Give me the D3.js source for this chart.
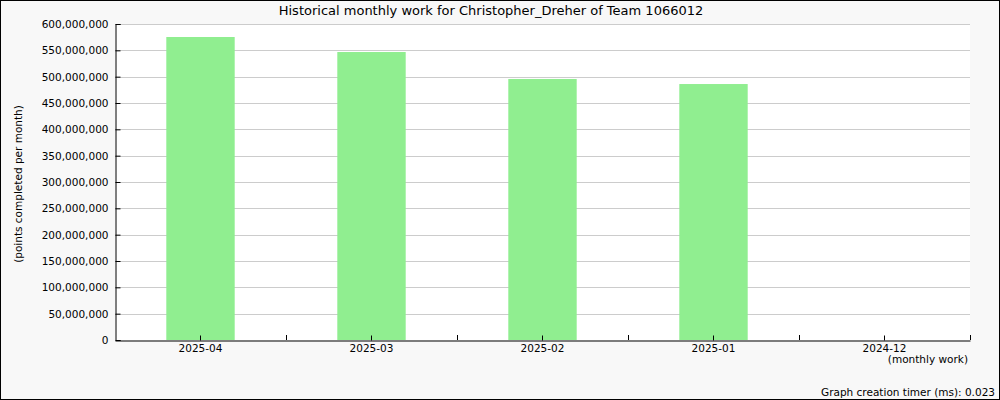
<!DOCTYPE html>
<html><head><meta charset="utf-8">
<script src="https://cdn.jsdelivr.net/npm/d3@7"></script>
<style>
html,body{margin:0;padding:0;background:#fff;}
svg text{font-family:"DejaVu Sans",sans-serif;fill:#000;}
</style></head>
<body>
<svg id="c" width="1000" height="400"></svg>
<script>
const categories = ["2025-04","2025-03","2025-02","2025-01","2024-12"];
const values = [575300000, 546800000, 495600000, 486000000, 0];
const yTicks = [0,50e6,100e6,150e6,200e6,250e6,300e6,350e6,400e6,450e6,500e6,550e6,600e6];
const title = "Historical monthly work for Christopher_Dreher of Team 1066012";
const yTitle = "(points completed per month)";
const xTitle = "(monthly work)";
const footer = "Graph creation timer (ms): 0.023";

const svg = d3.select("#c");
svg.append("rect").attr("x",0.5).attr("y",0.5).attr("width",999).attr("height",399)
  .attr("fill","#f8f8f8").attr("stroke","#000");

const L=115, R=970, T=24, B=340;
const x = d3.scaleBand().domain(categories).range([L,R]);
const y = d3.scaleLinear().domain([0,600e6]).range([B,T]);

svg.append("rect").attr("x",L).attr("y",T).attr("width",R-L).attr("height",B-T).attr("fill","#fff");

svg.append("g").selectAll("line").data(yTicks.filter(d=>d>0)).join("line")
  .attr("x1",L).attr("x2",R).attr("y1",d=>Math.round(y(d))+0.5).attr("y2",d=>Math.round(y(d))+0.5)
  .attr("stroke","#ccc");

svg.append("g").selectAll("rect").data(categories).join("rect")
  .attr("x",d=>x(d)+x.bandwidth()*0.3).attr("width",x.bandwidth()*0.4)
  .attr("y",(d,i)=>y(values[i])).attr("height",(d,i)=>B-y(values[i]))
  .attr("fill","#90ee90");

const fmt = d3.format(",");
// y axis
const ya = svg.append("g").attr("transform",`translate(${L+0.5},0)`)
  .call(d3.axisLeft(y).tickValues(yTicks).tickFormat(fmt).tickSize(-5).tickPadding(7));
ya.select(".domain").attr("stroke","#000");
ya.selectAll("text").attr("font-size","10.5px").attr("font-family","DejaVu Sans");
// x axis
const xa = svg.append("g").attr("transform",`translate(0,${B+0.5})`)
  .call(d3.axisBottom(x).tickSize(-5).tickPadding(4).tickSizeOuter(0));
xa.select(".domain").attr("stroke","#000");
xa.selectAll("text").attr("font-size","10.5px").attr("font-family","DejaVu Sans").attr("dy","0.71em");
// boundary ticks
svg.append("g").selectAll("line").data(categories.map((c,i)=>i)).join("line")
  .attr("x1",i=>Math.round(x(categories[i])+x.bandwidth())+0.5)
  .attr("x2",i=>Math.round(x(categories[i])+x.bandwidth())+0.5)
  .attr("y1",B-5).attr("y2",B).attr("stroke","#000");

svg.append("text").attr("x",491).attr("y",15).attr("text-anchor","middle").attr("font-size","13px").text(title);
svg.append("text").attr("transform","translate(22,184) rotate(-90)").attr("text-anchor","middle").attr("font-size","10.5px").text(yTitle);
svg.append("text").attr("x",968).attr("y",363).attr("text-anchor","end").attr("font-size","10.5px").text(xTitle);
svg.append("text").attr("x",995).attr("y",396).attr("text-anchor","end").attr("font-size","10.5px").text(footer);
</script>
</body></html>
